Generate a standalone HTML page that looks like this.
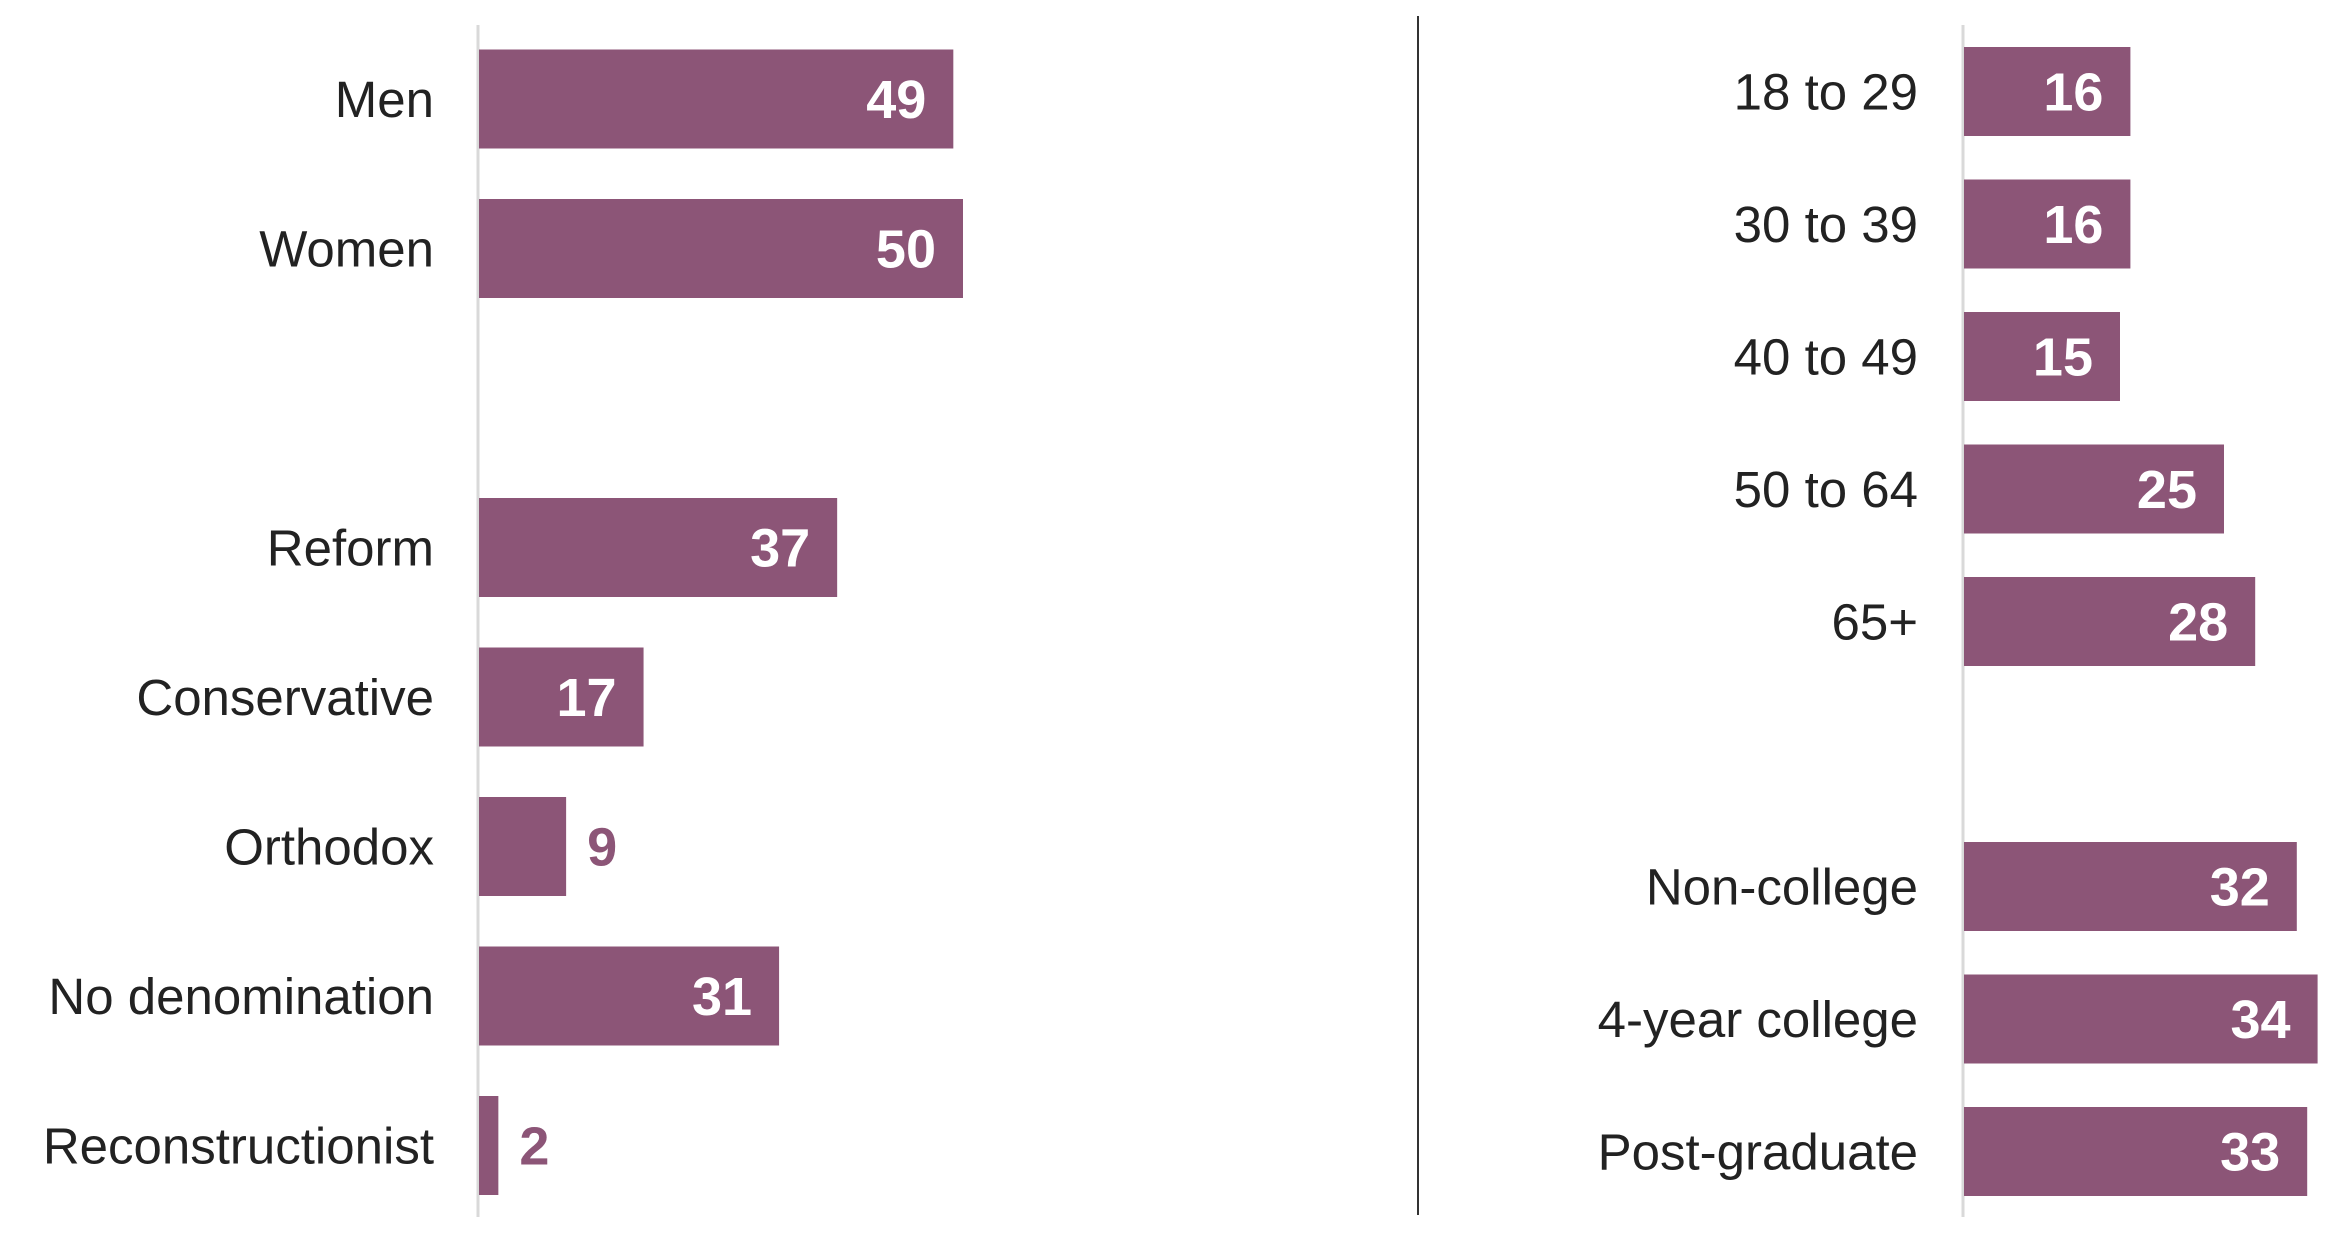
<!DOCTYPE html>
<html><head><meta charset="utf-8"><style>
html,body{margin:0;padding:0;background:#fff;}
svg{display:block;font-family:"Liberation Sans",Arial,sans-serif;}
</style></head><body>
<svg id="chart" width="2344" height="1248" viewBox="0 0 2344 1248">
<line x1="478" y1="25" x2="478" y2="1217" stroke="#d9d9d9" stroke-width="3"/>
<line x1="1418" y1="16" x2="1418" y2="1215" stroke="#333" stroke-width="2"/>
<line x1="1963" y1="25" x2="1963" y2="1217" stroke="#d9d9d9" stroke-width="3"/>
</svg>
<script>
const leftCats=["Men","Women","","Reform","Conservative","Orthodox","No denomination","Reconstructionist"];
const leftVals=[49,50,null,37,17,9,31,2];
const rightCats=["18 to 29","30 to 39","40 to 49","50 to 64","65+","","Non-college","4-year college","Post-graduate"];
const rightVals=[16,16,15,25,28,null,32,34,33];
const svg=document.getElementById('chart');
const NS='http://www.w3.org/2000/svg';
function panel(cats,vals,x0,unit,y0,pitch,bh,labelX,prefix){
  cats.forEach((c,i)=>{
    const v=vals[i]; if(v===null) return;
    const cy=y0+i*pitch, w=v*unit;
    const r=document.createElementNS(NS,'rect');
    r.setAttribute('x',x0+1);r.setAttribute('y',cy-bh/2);r.setAttribute('width',w);r.setAttribute('height',bh);r.setAttribute('fill','#8c5577');
    
    
    svg.appendChild(r);
    const t=document.createElementNS(NS,'text');
    t.setAttribute('x',labelX);t.setAttribute('y',cy+18);t.setAttribute('text-anchor','end');t.setAttribute('font-size','51');t.setAttribute('fill','#222');
    t.textContent=c;
    
    
    svg.appendChild(t);
    const vl=document.createElementNS(NS,'text');
    const inside=w>120;
    vl.setAttribute('x',inside?x0+w-26:x0+w+22);vl.setAttribute('y',cy+19);
    vl.setAttribute('text-anchor',inside?'end':'start');vl.setAttribute('font-size','54');vl.setAttribute('font-weight','bold');
    vl.setAttribute('fill',inside?'#fff':'#8c5577');
    vl.textContent=v;
    
    
    svg.appendChild(vl);
  });
}
panel(leftCats,leftVals,478,9.68,99,149.5,99,434,'left');
panel(rightCats,rightVals,1963,10.4,91.5,132.5,89,1918,'right');
</script>
</body></html>
